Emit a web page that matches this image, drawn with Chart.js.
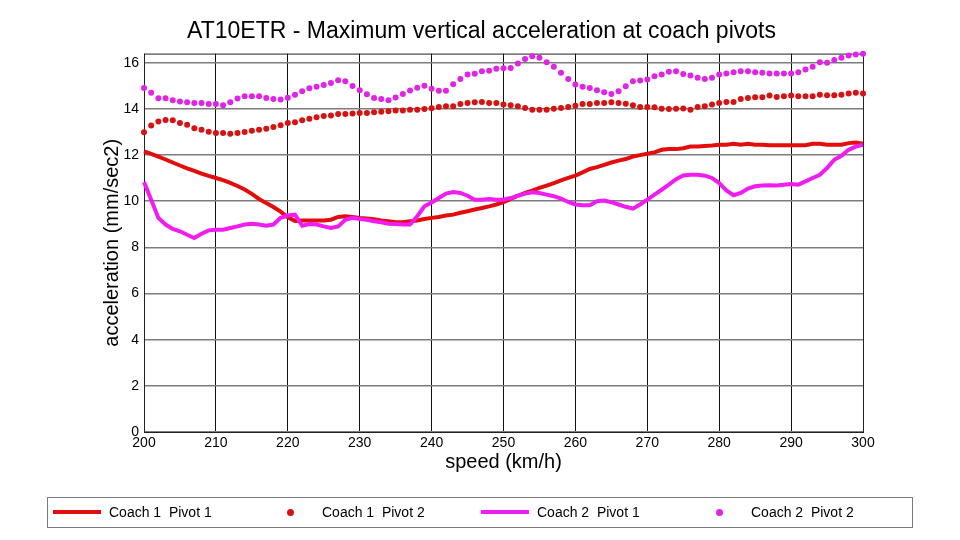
<!DOCTYPE html>
<html>
<head>
<meta charset="utf-8">
<title>AT10ETR - Maximum vertical acceleration at coach pivots</title>
<script src="https://cdn.jsdelivr.net/npm/chart.js@4/dist/chart.umd.min.js"></script>
<style>
    body { margin: 0; background: #fff; font-family: 'Liberation Sans', Arial, sans-serif; }
    #wrap { position: relative; width: 960px; height: 540px; }
    #legend {
        position: absolute; left: 47px; top: 497px; width: 866px; height: 31px;
        box-sizing: border-box; border: 1.5px solid #7a7a7a;
    }
    .item { position: absolute; top: 0; height: 28px; display: flex; align-items: center; font-size: 14px; color: #000; white-space: pre; }
    .sample { width: 48px; margin-right: 8px; display: flex; align-items: center; justify-content: center; }
</style>
</head>
<body>
<div id="wrap">
    <canvas id="chart" width="960" height="540"></canvas>
    <div id="legend"></div>
</div>
<script>
// speed (km/h)
const speeds = [
    200, 201, 202, 203, 204, 205, 206, 207, 208, 209,
    210, 211, 212, 213, 214, 215, 216, 217, 218, 219,
    220, 221, 222, 223, 224, 225, 226, 227, 228, 229,
    230, 231, 232, 233, 234, 235, 236, 237, 238, 239,
    240, 241, 242, 243, 244, 245, 246, 247, 248, 249,
    250, 251, 252, 253, 254, 255, 256, 257, 258, 259,
    260, 261, 262, 263, 264, 265, 266, 267, 268, 269,
    270, 271, 272, 273, 274, 275, 276, 277, 278, 279,
    280, 281, 282, 283, 284, 285, 286, 287, 288, 289,
    290, 291, 292, 293, 294, 295, 296, 297, 298, 299, 300
];

// acceleration (mm/sec2)
const coach1Pivot1 = [
    12.16, 12.05, 11.93, 11.81, 11.68, 11.55, 11.43, 11.32, 11.20, 11.10,
    11.01, 10.92, 10.80, 10.66, 10.51, 10.32, 10.10, 9.92, 9.75, 9.55,
    9.30, 9.15, 9.17, 9.17, 9.17, 9.17, 9.20, 9.32, 9.35, 9.32,
    9.28, 9.25, 9.22, 9.17, 9.13, 9.09, 9.09, 9.13, 9.17, 9.23,
    9.28, 9.32, 9.38, 9.42, 9.50, 9.57, 9.64, 9.71, 9.78, 9.86,
    9.96, 10.10, 10.24, 10.36, 10.46, 10.58, 10.68, 10.79, 10.91, 11.01,
    11.11, 11.25, 11.40, 11.48, 11.58, 11.68, 11.76, 11.83, 11.94, 12.00,
    12.06, 12.12, 12.23, 12.26, 12.26, 12.30, 12.37, 12.37, 12.40, 12.42,
    12.45, 12.45, 12.49, 12.45, 12.49, 12.45, 12.45, 12.43, 12.43, 12.43,
    12.43, 12.43, 12.43, 12.49, 12.49, 12.45, 12.45, 12.45, 12.52, 12.55, 12.49
];
const coach1Pivot2 = [
    12.99, 13.28, 13.46, 13.52, 13.51, 13.39, 13.32, 13.17, 13.10, 13.01,
    12.96, 12.96, 12.93, 12.96, 13.00, 13.06, 13.10, 13.14, 13.22, 13.30,
    13.39, 13.42, 13.51, 13.58, 13.64, 13.70, 13.72, 13.78, 13.78, 13.80,
    13.83, 13.83, 13.86, 13.88, 13.90, 13.93, 13.93, 13.97, 13.97, 14.00,
    14.03, 14.09, 14.12, 14.12, 14.22, 14.26, 14.29, 14.30, 14.26, 14.26,
    14.19, 14.16, 14.12, 14.04, 13.97, 13.97, 13.97, 14.01, 14.04, 14.09,
    14.14, 14.22, 14.22, 14.26, 14.26, 14.29, 14.26, 14.23, 14.16, 14.09,
    14.09, 14.07, 14.01, 14.00, 14.01, 14.02, 13.97, 14.09, 14.12, 14.19,
    14.26, 14.30, 14.30, 14.43, 14.48, 14.51, 14.51, 14.58, 14.52, 14.55,
    14.58, 14.55, 14.55, 14.55, 14.62, 14.59, 14.59, 14.62, 14.67, 14.70, 14.67
];
const coach2Pivot1 = [
    10.83, 10.07, 9.28, 8.99, 8.80, 8.70, 8.55, 8.41, 8.59, 8.74,
    8.77, 8.77, 8.84, 8.91, 8.99, 9.03, 8.99, 8.94, 8.99, 9.28,
    9.38, 9.42, 8.94, 9.01, 8.99, 8.91, 8.84, 8.91, 9.20, 9.28,
    9.23, 9.20, 9.13, 9.09, 9.03, 9.01, 8.99, 8.99, 9.35, 9.78,
    9.95, 10.14, 10.33, 10.40, 10.36, 10.24, 10.07, 10.07, 10.10, 10.07,
    10.07, 10.14, 10.24, 10.33, 10.39, 10.36, 10.29, 10.22, 10.12, 9.97,
    9.86, 9.83, 9.83, 10.00, 10.03, 9.96, 9.86, 9.76, 9.68, 9.86,
    10.07, 10.29, 10.50, 10.72, 10.96, 11.12, 11.15, 11.15, 11.11, 11.01,
    10.79, 10.47, 10.26, 10.36, 10.55, 10.65, 10.68, 10.69, 10.68, 10.72,
    10.75, 10.72, 10.86, 11.01, 11.15, 11.44, 11.80, 11.97, 12.23, 12.37, 12.45
];
const coach2Pivot2 = [
    14.91, 14.70, 14.46, 14.46, 14.38, 14.32, 14.29, 14.26, 14.26, 14.22,
    14.22, 14.16, 14.29, 14.45, 14.55, 14.55, 14.55, 14.48, 14.43, 14.41,
    14.49, 14.62, 14.77, 14.90, 14.96, 15.04, 15.13, 15.25, 15.20, 15.00,
    14.81, 14.64, 14.48, 14.43, 14.38, 14.50, 14.65, 14.80, 14.92, 15.01,
    14.88, 14.79, 14.79, 15.07, 15.30, 15.49, 15.53, 15.64, 15.66, 15.74,
    15.76, 15.78, 15.97, 16.17, 16.29, 16.22, 16.03, 15.83, 15.57, 15.30,
    15.06, 14.96, 14.91, 14.81, 14.72, 14.65, 14.77, 14.99, 15.20, 15.23,
    15.28, 15.42, 15.49, 15.61, 15.64, 15.52, 15.45, 15.35, 15.30, 15.35,
    15.49, 15.54, 15.59, 15.64, 15.64, 15.59, 15.57, 15.54, 15.54, 15.54,
    15.54, 15.59, 15.71, 15.83, 16.03, 16.00, 16.12, 16.22, 16.32, 16.36, 16.39
];

const seriesLabels = ['Coach 1  Pivot 1', 'Coach 1  Pivot 2', 'Coach 2  Pivot 1', 'Coach 2  Pivot 2'];

const RED_LINE = '#e30d0d';
const RED_DOT = '#d61212';
const MAG_LINE = '#f01cf0';
const MAG_DOT = '#e024e6';

const toPoints = values => values.map((v, i) => ({ x: speeds[i], y: v }));

const lineSet = (label, values, color, order) => ({
    label, data: toPoints(values), borderColor: color, backgroundColor: color,
    borderWidth: 4, pointRadius: 0, tension: 0, order, clip: false
});
const dotSet = (label, values, color, order) => ({
    label, data: toPoints(values), borderColor: color, backgroundColor: color,
    showLine: false, pointRadius: 3, pointBorderWidth: 0, order, clip: false
});

// plot frame on top of the grid, under the data
const framePlugin = {
    id: 'frame',
    beforeDatasetsDraw(chart) {
        const { ctx, chartArea: a } = chart;
        ctx.save();
        ctx.strokeStyle = '#222';
        ctx.lineWidth = 1;
        ctx.strokeRect(a.left + 0.5, a.top + 0.5, a.right - a.left, a.bottom - a.top);
        ctx.restore();
    }
};

const ctx = document.getElementById('chart').getContext('2d');
const chart = new Chart(ctx, {
    type: 'line',
    data: {
        datasets: [
            lineSet(seriesLabels[0], coach1Pivot1, RED_LINE, 2),
            dotSet(seriesLabels[1], coach1Pivot2, RED_DOT, 3),
            lineSet(seriesLabels[2], coach2Pivot1, MAG_LINE, 1),
            dotSet(seriesLabels[3], coach2Pivot2, MAG_DOT, 0)
        ]
    },
    options: {
        responsive: false,
        animation: false,
        layout: { padding: { left: 100, right: 97, top: 0, bottom: 65 } },
        plugins: {
            legend: { display: false },
            tooltip: { enabled: false },
            title: {
                display: true,
                text: 'AT10ETR - Maximum vertical acceleration at coach pivots',
                color: '#000',
                font: { family: "'Liberation Sans', Arial, sans-serif", size: 23, weight: 'normal' },
                padding: { top: 18, bottom: 8 }
            }
        },
        scales: {
            x: {
                type: 'linear',
                min: 200,
                max: 300,
                afterFit: scale => { scale.height = 43; },
                grid: { color: '#111', lineWidth: 1, drawTicks: false },
                border: { display: false },
                ticks: {
                    stepSize: 10, padding: 3, color: '#000', maxRotation: 0,
                    font: { family: "'Liberation Sans', Arial, sans-serif", size: 14 }
                },
                title: {
                    display: true, text: 'speed (km/h)', color: '#000',
                    font: { family: "'Liberation Sans', Arial, sans-serif", size: 20 },
                    padding: { top: 0, bottom: 1 }
                }
            },
            y: {
                min: 0,
                max: 16.4,
                afterFit: scale => { scale.width = 44; },
                grid: { color: '#7c7c7c', lineWidth: 1.6, drawTicks: false },
                border: { display: false },
                ticks: {
                    stepSize: 2, includeBounds: false, padding: 5, color: '#000',
                    font: { family: "'Liberation Sans', Arial, sans-serif", size: 14 }
                },
                title: {
                    display: true, text: 'acceleration (mm/sec2)', color: '#000',
                    font: { family: "'Liberation Sans', Arial, sans-serif", size: 20 },
                    padding: 0
                }
            }
        }
    },
    plugins: [framePlugin]
});

// boxed legend under the plot, four equal columns
const legendLeft = [5, 218, 433, 647];
document.getElementById('legend').innerHTML = chart.data.datasets.map((ds, i) => {
    const sample = ds.showLine === false
        ? `<span style="width:7px;height:7px;border-radius:50%;background:${ds.borderColor}"></span>`
        : `<span style="width:48px;height:4px;background:${ds.borderColor}"></span>`;
    return `<div class="item" style="left:${legendLeft[i]}px"><span class="sample">${sample}</span>${ds.label}</div>`;
}).join('');
</script>
</body>
</html>
